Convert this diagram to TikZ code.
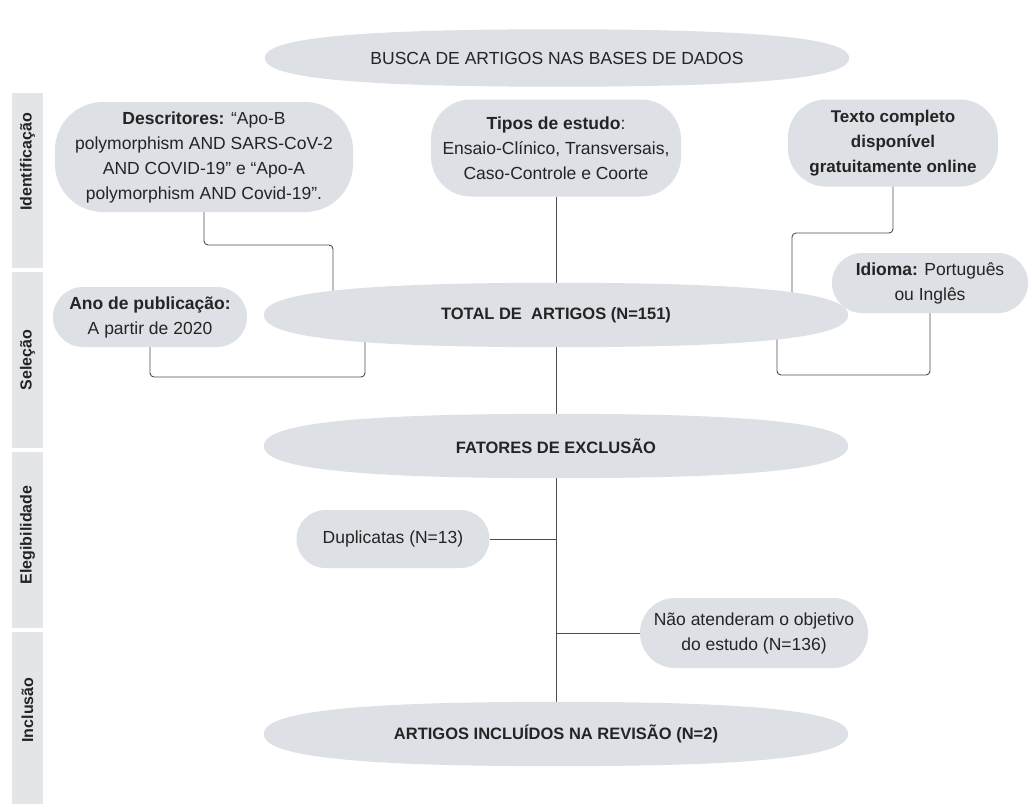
\documentclass[tikz,border=0pt]{standalone}
\usepackage{fontspec}
\setmainfont{Liberation Sans}
\usetikzlibrary{calc}
\definecolor{nodefill}{HTML}{DDE0E4}
\definecolor{barfill}{HTML}{E3E5E8}
\definecolor{txt}{HTML}{242424}
\definecolor{linec}{HTML}{4D4D4D}
\pgfdeclarelayer{bg}\pgfdeclarelayer{lines}\pgfdeclarelayer{fills}
\pgfsetlayers{bg,lines,fills,main}
\newcommand\lensfill[1]{%
 \fill[nodefill] (#1.west) .. controls ($(#1.west)!0.6!(#1.north west)$) and ($(#1.north)!0.78!(#1.north west)$) .. (#1.north)
 .. controls ($(#1.north)!0.78!(#1.north east)$) and ($(#1.east)!0.6!(#1.north east)$) .. (#1.east)
 .. controls ($(#1.east)!0.6!(#1.south east)$) and ($(#1.south)!0.78!(#1.south east)$) .. (#1.south)
 .. controls ($(#1.south)!0.78!(#1.south west)$) and ($(#1.west)!0.6!(#1.south west)$) .. (#1.west) -- cycle;}
\begin{document}
\begin{tikzpicture}[x=1pt,y=-1pt,
  pill/.style={fill=nodefill, text=txt, align=center, inner sep=0pt, font=\fontsize{17.5}{25}\selectfont},
  lenslbl/.style={minimum width=584pt, minimum height=64pt, inner sep=0pt, text=txt, font=\bfseries\fontsize{16.5}{20}\selectfont},
  conn/.style={draw=linec, line width=0.9pt, rounded corners=4pt},
  barbox/.style={fill=barfill, draw=none},
  barlbl/.style={rotate=90, font=\bfseries\fontsize{16}{18}\selectfont, text=txt}]
\useasboundingbox (0,0) rectangle (1030,804);
\begin{pgfonlayer}{bg}
\fill[white] (0,0) rectangle (1030,804);
\end{pgfonlayer}
% left bar
\fill[barbox] (12,93) rectangle (43,268);
\fill[barbox] (12,272) rectangle (43,448);
\fill[barbox] (12,452) rectangle (43,628);
\fill[barbox] (12,632) rectangle (43,804);
\node[barlbl] (l1) at (27.5,162) {Identificação};
\node[barlbl] (l2) at (27.5,360) {Seleção};
\node[barlbl] (l3) at (27.5,535) {Elegibilidade};
\node[barlbl] (l4) at (27.5,710) {Inclusão};
% lens nodes
\node[lenslbl, minimum height=57pt, font=\fontsize{17.5}{20}\selectfont] (busca) at (557,58) {BUSCA DE ARTIGOS NAS BASES DE DADOS};
\node[lenslbl] (total) at (556,315) {TOTAL DE\ \ ARTIGOS (N=151)};
\node[lenslbl] (fatores) at (556,446) {FATORES DE EXCLUSÃO};
\node[lenslbl] (artigos) at (556,734) {ARTIGOS INCLUÍDOS NA REVISÃO (N=2)};
\begin{pgfonlayer}{fills}
\lensfill{busca}\lensfill{total}\lensfill{fatores}\lensfill{artigos}
\end{pgfonlayer}
% pill nodes
\node[pill, minimum width=298pt, minimum height=110pt, rounded corners=48pt] (desc) at (204,157)
 {\textbf{Descritores:} “Apo-B\\polymorphism AND SARS-CoV-2\\AND COVID-19” e “Apo-A\\polymorphism AND Covid-19”.};
\node[pill, minimum width=250pt, minimum height=97pt, rounded corners=40pt] (tipos) at (556,148)
 {\textbf{Tipos de estudo}:\\Ensaio-Clínico, Transversais,\\Caso-Controle e Coorte};
\node[pill, minimum width=210pt, minimum height=87pt, rounded corners=38pt, font=\bfseries\fontsize{17}{25}\selectfont] (texto) at (893,143)
 {Texto completo\\disponível\\gratuitamente online};
\node[pill, minimum width=196pt, minimum height=60pt, rounded corners=30pt] (idioma) at (930,283)
 {\textbf{Idioma:} Português\\ou Inglês};
\node[pill, minimum width=194pt, minimum height=60pt, rounded corners=30pt] (ano) at (150,317)
 {\textbf{Ano de publicação:}\\A partir de 2020};
\node[pill, minimum width=193pt, minimum height=58pt, rounded corners=29pt] (dup) at (393,539)
 {Duplicatas (N=13)};
\node[pill, minimum width=228pt, minimum height=70pt, rounded corners=35pt] (nao) at (754,633)
 {Não atenderam o objetivo\\do estudo (N=136)};
% connector bend points
\coordinate (c1) at (333,245);
\coordinate (c2) at (792,233);
\coordinate (c3) at (365,377);
\coordinate (c4) at (777,375);
\begin{pgfonlayer}{lines}
\draw[conn] (desc.south) |- (c1) -- (c1 |- total.center);
\draw[conn] (tipos.south) -- (total.center);
\draw[conn] (texto.south) |- (c2) -- (c2 |- total.center);
\draw[conn] (ano.south) |- (c3) -- (c3 |- total.center);
\draw[conn] (c4 |- total.center) -- (c4) -| (idioma.south);
\draw[conn] (total.center) -- (fatores.center);
\draw[conn] (fatores.center) -- (artigos.center);
\draw[conn] (dup.east) -- (dup.east -| fatores.center);
\draw[conn] (nao.west -| fatores.center) -- (nao.west);
\end{pgfonlayer}
\end{tikzpicture}
\end{document}
